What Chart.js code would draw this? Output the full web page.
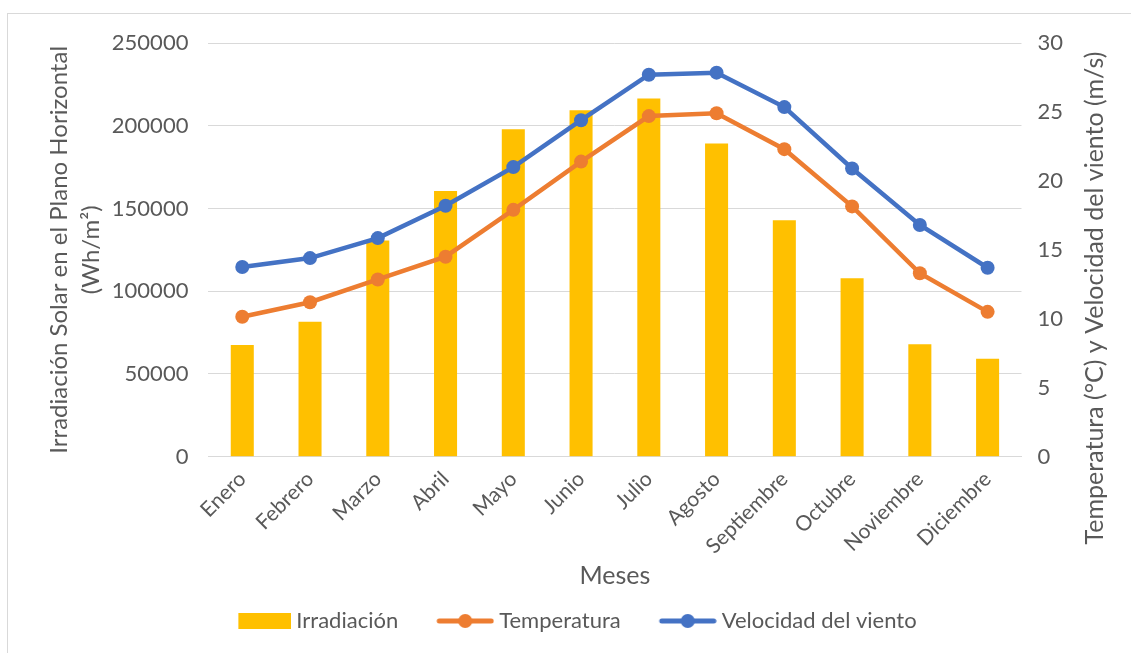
<!DOCTYPE html>
<html>
<head>
<meta charset="utf-8">
<script src="https://cdn.jsdelivr.net/npm/chart.js@4.4.0/dist/chart.umd.min.js"></script>
<style>
  body { margin: 0; background: #fff; overflow: hidden; }
  #frame { position: absolute; left: 7px; top: 13px; width: 1200px; height: 700px; border: 1px solid #d9d9d9; }
  #wrap { position: absolute; left: 0; top: 0; width: 1131px; height: 653px; }
</style>
</head>
<body>
<div id="frame"></div>
<div id="wrap"><canvas id="chart"></canvas></div>
<script>
const months = ['Enero', 'Febrero', 'Marzo', 'Abril', 'Mayo', 'Junio', 'Julio', 'Agosto', 'Septiembre', 'Octubre', 'Noviembre', 'Diciembre'];
const irradiacion = [67500, 81500, 130600, 160500, 197900, 209300, 216500, 189300, 142800, 107800, 67900, 59100];
const temperatura = [10.15, 11.2, 12.85, 14.5, 17.9, 21.4, 24.7, 24.9, 22.3, 18.15, 13.3, 10.5];
const viento = [13.75, 14.4, 15.85, 18.2, 21.0, 24.4, 27.7, 27.85, 25.35, 20.9, 16.8, 13.7];

const textColor = '#595959';
const fontFamily = 'Lato, "Open Sans", sans-serif';

// legend icons: canvas wider than the legend box so the mark sits close to its text
const ICON_W = 92;
function boxIcon(color) {
    const c = document.createElement('canvas');
    c.width = ICON_W; c.height = 16;
    const g = c.getContext('2d');
    g.fillStyle = color;
    g.fillRect(ICON_W - 53, 0, 53, 16);
    return c;
}

function lineIcon(color) {
    const c = document.createElement('canvas');
    c.width = ICON_W; c.height = 16;
    const g = c.getContext('2d');
    const x0 = ICON_W - 58;
    g.strokeStyle = color;
    g.lineWidth = 5;
    g.lineCap = 'round';
    g.beginPath(); g.moveTo(x0 + 3, 8); g.lineTo(x0 + 55, 8); g.stroke();
    g.fillStyle = color;
    g.beginPath(); g.arc(x0 + 29, 8, 7, 0, Math.PI * 2); g.fill();
    return c;
}

const icons = [boxIcon('#FFC000'), lineIcon('#ED7D31'), lineIcon('#4472C4')];

const rightTitle = {
    id: 'rightTitle',
    afterDraw(chart) {
        const ctx = chart.ctx;
        ctx.save();
        ctx.translate(1095, 298);
        ctx.rotate(-Math.PI / 2);
        ctx.font = '25px ' + fontFamily;
        ctx.fillStyle = textColor;
        ctx.textAlign = 'center';
        ctx.textBaseline = 'middle';
        ctx.fillText('Temperatura (°C) y Velocidad del viento (m/s)', 0, 0);
        ctx.restore();
    }
};

const ctx = document.getElementById('chart').getContext('2d');
new Chart(ctx, {
    type: 'bar',
    data: {
        labels: months,
        datasets: [
            {
                type: 'bar',
                label: 'Irradiación',
                data: irradiacion,
                backgroundColor: '#FFC000',
                yAxisID: 'y',
                barPercentage: 0.34,
                categoryPercentage: 1,
                order: 2
            },
            {
                type: 'line',
                label: 'Temperatura',
                data: temperatura,
                borderColor: '#ED7D31',
                backgroundColor: '#ED7D31',
                borderWidth: 4.5,
                pointRadius: 7,
                pointBorderWidth: 0,
                yAxisID: 'y1',
                order: 1
            },
            {
                type: 'line',
                label: 'Velocidad del viento',
                data: viento,
                borderColor: '#4472C4',
                backgroundColor: '#4472C4',
                borderWidth: 4.5,
                pointRadius: 7,
                pointBorderWidth: 0,
                yAxisID: 'y1',
                order: 0
            }
        ]
    },
    options: {
        responsive: true,
        maintainAspectRatio: false,
        animation: false,
        layout: { padding: { left: 43, right: 52, top: 43, bottom: 11 } },
        plugins: {
            legend: {
                position: 'bottom',
                labels: {
                    usePointStyle: true,
                    pointStyleWidth: 80,
                    boxHeight: 16,
                    padding: 10,
                    color: textColor,
                    font: { family: fontFamily, size: 22 },
                    generateLabels(chart) {
                        return chart.data.datasets.map((ds, i) => ({
                            text: ds.label,
                            pointStyle: icons[i],
                            fillStyle: ds.backgroundColor,
                            strokeStyle: ds.backgroundColor,
                            lineWidth: 0,
                            fontColor: textColor,
                            datasetIndex: i,
                            hidden: false
                        }));
                    }
                }
            },
            tooltip: { enabled: false }
        },
        scales: {
            x: {
                grid: { display: false },
                border: { color: '#d9d9d9' },
                ticks: {
                    color: textColor,
                    font: { family: fontFamily, size: 21 },
                    padding: 2,
                    minRotation: 45,
                    maxRotation: 45,
                    autoSkip: false
                },
                title: {
                    display: true,
                    text: 'Meses',
                    color: textColor,
                    font: { family: fontFamily, size: 25 },
                    padding: { top: 0, bottom: 9 }
                }
            },
            y: {
                position: 'left',
                min: 0,
                max: 250000,
                grid: { color: '#d9d9d9', drawTicks: false },
                border: { display: false },
                ticks: {
                    stepSize: 50000,
                    padding: 20,
                    color: textColor,
                    font: { family: fontFamily, size: 22 },
                    callback: v => String(v)
                },
                title: {
                    display: true,
                    text: ['Irradiación Solar en el Plano Horizontal', '(Wh/m²)'],
                    color: textColor,
                    font: { family: fontFamily, size: 24, lineHeight: 1.33 },
                    padding: { top: 0, bottom: -15 }
                }
            },
            y1: {
                position: 'right',
                min: 0,
                max: 30,
                grid: { display: false, drawTicks: false },
                border: { display: false },
                ticks: {
                    stepSize: 5,
                    padding: 16,
                    color: textColor,
                    font: { family: fontFamily, size: 22 }
                }
            }
        }
    },
    plugins: [rightTitle]
});
</script>
</body>
</html>
